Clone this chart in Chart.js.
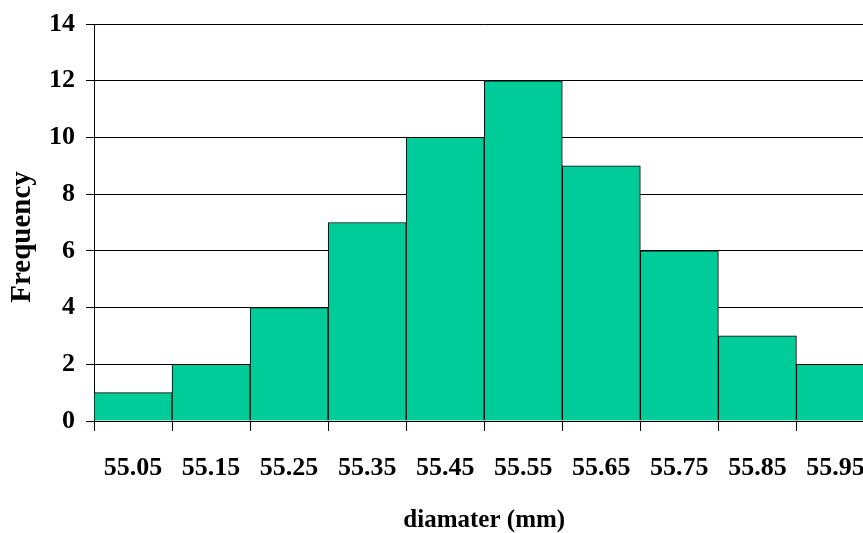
<!DOCTYPE html>
<html>
<head>
<meta charset="utf-8">
<script src="https://cdn.jsdelivr.net/npm/chart.js@4.4.0/dist/chart.umd.min.js"></script>
<style>
  html, body { margin: 0; padding: 0; background: #fff; overflow: hidden; }
  #wrap { width: 887px; height: 533px; }
</style>
</head>
<body>
<div id="wrap"><canvas id="hist" width="887" height="533"></canvas></div>
<script>
// bins (mm) and counts
const binLabels = ['55.05', '55.15', '55.25', '55.35', '55.45', '55.55', '55.65', '55.75', '55.85', '55.95'];
const counts = [1, 2, 4, 7, 10, 12, 9, 6, 3, 2];
const yTicks = [0, 2, 4, 6, 8, 10, 12, 14];

const serif = "'Liberation Serif', 'Times New Roman', serif";

new Chart(document.getElementById('hist'), {
    type: 'bar',
    data: {
        labels: binLabels,
        datasets: [{
            data: counts,
            backgroundColor: '#00CC99',
            borderColor: '#000',
            borderWidth: 1,
            barPercentage: 1,
            categoryPercentage: 1,
        }]
    },
    options: {
        responsive: false,
        animation: false,
        layout: { padding: { top: 23, right: 6, left: 0, bottom: 0 } },
        plugins: {
            legend: { display: false },
            tooltip: { enabled: false }
        },
        scales: {
            x: {
                offset: true,
                grid: {
                    offset: true,
                    drawOnChartArea: false,
                    drawTicks: true,
                    tickLength: 10,
                    color: '#000',
                },
                border: { color: '#000' },
                ticks: {
                    color: '#000',
                    padding: 22,
                    maxRotation: 0,
                    autoSkip: false,
                    font: { family: serif, size: 26, weight: 'bold' }
                },
                title: {
                    display: true,
                    text: 'diamater (mm)',
                    color: '#000',
                    padding: { top: 0, bottom: 0 },
                    font: { family: serif, size: 25, weight: 'bold', lineHeight: 1 }
                },
                afterFit: (scale) => { scale.height = 112; }
            },
            y: {
                min: 0,
                max: 14,
                afterBuildTicks: (scale) => { scale.ticks = yTicks.map(v => ({ value: v })); },
                grid: {
                    color: '#000',
                    tickLength: 8,
                },
                border: { color: '#000' },
                ticks: {
                    color: '#000',
                    padding: 11,
                    font: { family: serif, size: 26, weight: 'bold', lineHeight: 1 }
                },
                title: {
                    display: true,
                    // trailing spaces nudge the rotated title down a bit, like the original
                    text: 'Frequency    ',
                    color: '#000',
                    padding: { top: 8, bottom: 0 },
                    font: { family: serif, size: 29, weight: 'bold', lineHeight: 1 }
                },
                afterFit: (scale) => { scale.width = 94; }
            }
        }
    }
});
</script>
</body>
</html>
